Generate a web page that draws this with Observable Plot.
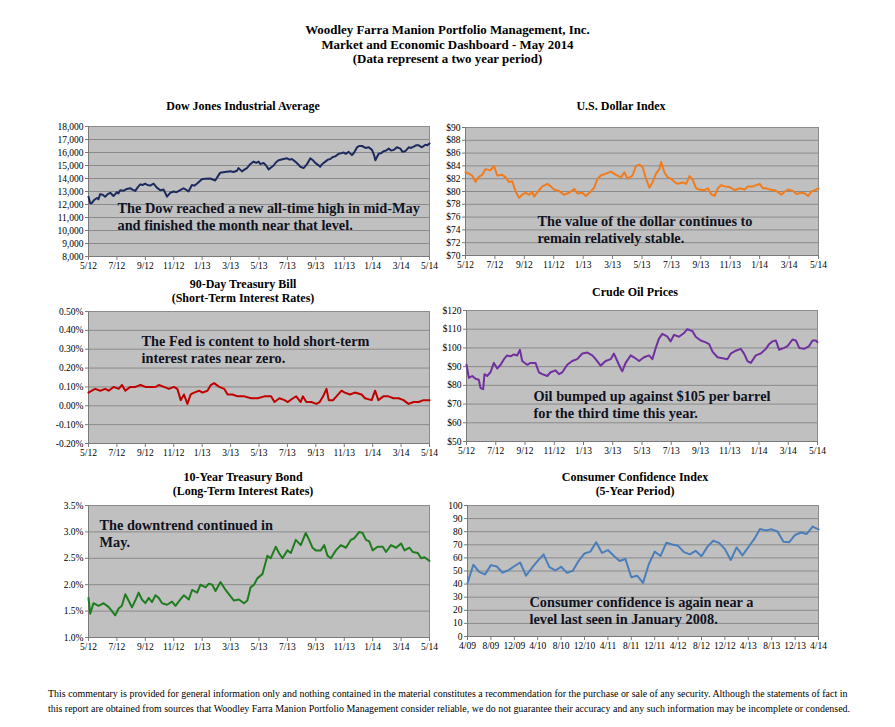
<!DOCTYPE html>
<html><head><meta charset="utf-8">
<script src="https://cdn.jsdelivr.net/npm/d3@7"></script>
<script src="https://cdn.jsdelivr.net/npm/@observablehq/plot@0.6"></script>
<style>
body{margin:0;background:#fff;}
#page{position:relative;width:895px;height:727px;font-family:"Liberation Serif","DejaVu Serif",serif;color:#000;overflow:hidden;}
.head{position:absolute;left:0;top:23px;width:895px;text-align:center;font-weight:bold;font-size:12.9px;line-height:14.7px;}
.ptitle{position:absolute;transform:translateX(-50%);text-align:center;font-weight:bold;font-size:12px;line-height:13.5px;white-space:nowrap;}
.foot{position:absolute;left:48px;top:686px;font-size:9.95px;line-height:15px;white-space:nowrap;}
.chart{position:absolute;}
</style></head>
<body><div id="page"></div>
<script>
// ---- data (x = months since start of period) ----
const twoYearTicks = [0,2,4,6,8,10,12,14,16,18,20,22,24];
const twoYearLabels = ["5/12","7/12","9/12","11/12","1/13","3/13","5/13","7/13","9/13","11/13","1/14","3/14","5/14"];
const cciTicks = [0,4,8,12,16,20,24,28,32,36,40,44,48,52,56,60];
const cciLabels = ["4/09","8/09","12/09","4/10","8/10","12/10","4/11","8/11","12/11","4/12","8/12","12/12","4/13","8/13","12/13","4/14"];

const dowData = [[0,12600],[0.12,12100],[0.23,12100],[0.4,12350],[0.59,12500],[0.7,12400],[0.82,12800],[1.0,12750],[1.17,12600],[1.35,12800],[1.53,12900],[1.76,12650],[2.0,12950],[2.1,12850],[2.23,13100],[2.45,13050],[2.7,13200],[2.93,13250],[3.1,13150],[3.29,13050],[3.45,13300],[3.64,13550],[3.8,13500],[3.99,13600],[4.15,13500],[4.34,13450],[4.58,13600],[4.81,13300],[5.05,13100],[5.28,13150],[5.4,12900],[5.52,12600],[5.75,12900],[5.99,13000],[6.2,12950],[6.46,13100],[6.69,13250],[6.85,13150],[7.04,13000],[7.28,13500],[7.45,13450],[7.63,13600],[7.98,13950],[8.2,13980],[8.57,14000],[8.92,13850],[9.27,14450],[9.6,14500],[9.98,14550],[10.2,14500],[10.45,14600],[10.56,14800],[10.8,14550],[11.0,14700],[11.15,14800],[11.38,15100],[11.62,15300],[11.8,15200],[11.97,15300],[12.1,15100],[12.32,15200],[12.5,15000],[12.68,14700],[12.85,14850],[13.03,15000],[13.2,15250],[13.38,15400],[13.73,15500],[13.97,15550],[14.15,15450],[14.32,15500],[14.55,15300],[14.75,15100],[14.91,14900],[15.14,14800],[15.38,15100],[15.61,15550],[15.8,15400],[15.96,15200],[16.15,15050],[16.31,14900],[16.43,15100],[16.67,15300],[16.85,15450],[17.02,15500],[17.2,15650],[17.37,15700],[17.61,15900],[17.8,15950],[17.96,16000],[18.1,15900],[18.31,16050],[18.54,15800],[18.7,16000],[18.9,16400],[19.05,16500],[19.25,16500],[19.5,16350],[19.72,16400],[19.95,16200],[20.1,15800],[20.19,15400],[20.42,15900],[20.6,15950],[20.77,16100],[20.95,16150],[21.13,16300],[21.3,16150],[21.48,16200],[21.7,16400],[21.95,16300],[22.1,16050],[22.3,16100],[22.54,16400],[22.7,16350],[22.89,16450],[23.05,16550],[23.24,16550],[23.47,16400],[23.71,16600],[23.85,16550],[24,16700]];

const dollarData = [[0,83.0],[0.23,82.8],[0.45,82.5],[0.68,81.5],[0.91,82.3],[1.14,82.6],[1.36,83.5],[1.7,83.3],[1.93,84.0],[2.16,82.5],[2.5,82.6],[2.73,82.2],[2.95,81.5],[3.18,81.6],[3.41,80.0],[3.64,79.0],[3.86,79.5],[4.09,79.8],[4.32,79.5],[4.55,79.9],[4.66,79.2],[5.0,80.2],[5.23,80.8],[5.57,81.2],[5.8,80.8],[6.02,80.3],[6.36,80.1],[6.7,79.5],[7.05,79.8],[7.39,80.4],[7.61,79.7],[7.95,79.8],[8.18,79.3],[8.52,80.0],[8.75,80.6],[8.98,82.0],[9.2,82.5],[9.55,82.8],[9.89,83.1],[10.23,82.6],[10.57,82.2],[10.8,83.0],[11.02,82.0],[11.36,82.5],[11.59,84.0],[11.82,84.2],[12.05,83.8],[12.27,82.0],[12.5,80.6],[12.73,81.5],[12.95,82.8],[13.18,83.5],[13.3,84.6],[13.52,83.0],[13.75,82.2],[13.98,82.0],[14.2,81.5],[14.43,81.2],[14.77,81.4],[15.0,81.2],[15.23,82.4],[15.45,81.8],[15.68,80.5],[15.91,80.3],[16.25,80.2],[16.48,80.5],[16.7,79.6],[16.93,79.3],[17.16,80.5],[17.39,81.0],[17.61,80.8],[17.95,80.7],[18.3,80.2],[18.64,80.5],[18.98,80.3],[19.2,80.8],[19.55,80.8],[19.77,81.0],[20.0,81.2],[20.23,80.5],[20.45,80.5],[20.68,80.3],[21.02,80.2],[21.25,79.9],[21.48,79.5],[21.7,80.0],[21.93,80.3],[22.27,80.1],[22.5,79.6],[22.84,79.8],[23.07,79.7],[23.3,79.3],[23.52,80.0],[23.75,80.2],[24,80.5]];

const tbillData = [[0,0.07],[0.24,0.08],[0.47,0.09],[0.83,0.08],[1.18,0.09],[1.42,0.08],[1.77,0.10],[2.12,0.09],[2.36,0.11],[2.59,0.08],[2.95,0.10],[3.3,0.10],[3.66,0.11],[4.01,0.10],[4.36,0.10],[4.72,0.10],[4.95,0.11],[5.31,0.10],[5.66,0.09],[6.01,0.10],[6.25,0.09],[6.49,0.03],[6.72,0.06],[6.96,0.01],[7.19,0.06],[7.43,0.07],[7.78,0.08],[8.02,0.07],[8.37,0.08],[8.61,0.11],[8.84,0.12],[9.2,0.10],[9.55,0.09],[9.79,0.06],[10.14,0.06],[10.5,0.05],[10.97,0.05],[11.44,0.04],[11.91,0.04],[12.38,0.05],[12.85,0.05],[13.09,0.02],[13.44,0.04],[13.8,0.03],[14.03,0.02],[14.39,0.04],[14.62,0.05],[14.93,0.02],[15.09,0.05],[15.33,0.02],[15.68,0.02],[16.04,0.01],[16.27,0.02],[16.51,0.05],[16.75,0.09],[16.91,0.03],[17.22,0.03],[17.45,0.05],[17.81,0.08],[18.04,0.07],[18.4,0.06],[18.75,0.07],[19.22,0.06],[19.46,0.04],[19.93,0.03],[20.17,0.08],[20.4,0.03],[20.75,0.05],[21.11,0.05],[21.46,0.04],[21.82,0.04],[22.17,0.03],[22.52,0.01],[22.88,0.02],[23.23,0.02],[23.58,0.03],[24,0.03]];

const oilData = [[0,91],[0.16,84],[0.39,85],[0.62,83.5],[0.84,83],[0.96,78.5],[1.14,78],[1.23,86],[1.41,85],[1.64,87],[1.87,92],[2.1,89],[2.33,91],[2.56,94],[2.78,96],[3.01,95.5],[3.24,96.5],[3.47,96],[3.65,99],[3.81,93],[4.15,91],[4.38,92],[4.72,92],[4.95,87],[5.18,86],[5.52,85],[5.75,87],[6.09,88],[6.32,86],[6.55,87],[6.89,91],[7.23,93],[7.57,94],[7.92,97],[8.26,97.5],[8.6,96],[8.83,94],[9.17,90.5],[9.51,93],[9.86,94],[10.08,97],[10.31,93],[10.54,89],[10.65,87.5],[10.88,92],[11.23,96],[11.45,95],[11.8,93],[12.14,95],[12.48,96],[12.71,94],[12.94,100],[13.16,105],[13.39,107.5],[13.74,106],[13.96,103.5],[14.19,107],[14.53,106],[14.88,108],[15.1,110],[15.45,109],[15.67,106],[16.02,104],[16.36,103],[16.59,102],[16.82,98],[17.16,95],[17.5,94.5],[17.84,94],[18.07,97],[18.41,98.5],[18.75,99.5],[18.98,97],[19.21,93],[19.44,92],[19.78,96],[20.12,97],[20.47,99.5],[20.69,102],[20.92,103.5],[21.15,104],[21.38,99],[21.72,100],[21.95,101],[22.29,104.5],[22.52,104],[22.75,100],[23.09,99.5],[23.43,101],[23.66,104],[23.89,104],[24,103]];

const bondData = [[0,1.75],[0.12,1.45],[0.35,1.65],[0.71,1.6],[1.06,1.65],[1.41,1.58],[1.65,1.5],[1.88,1.42],[2.12,1.55],[2.35,1.6],[2.59,1.82],[2.82,1.7],[3.06,1.57],[3.29,1.7],[3.53,1.85],[3.76,1.72],[4.0,1.65],[4.24,1.75],[4.47,1.67],[4.71,1.8],[4.94,1.75],[5.18,1.65],[5.53,1.62],[5.88,1.68],[6.12,1.6],[6.47,1.72],[6.71,1.8],[7.06,1.72],[7.29,1.9],[7.65,1.85],[7.88,2.0],[8.24,1.95],[8.47,2.02],[8.71,2.0],[8.94,1.88],[9.29,2.05],[9.65,1.9],[10.0,1.78],[10.24,1.7],[10.59,1.72],[10.94,1.65],[11.18,1.7],[11.41,1.95],[11.65,2.0],[11.88,2.12],[12.24,2.2],[12.59,2.55],[12.82,2.5],[13.18,2.72],[13.41,2.6],[13.65,2.5],[14.0,2.65],[14.24,2.6],[14.59,2.85],[14.94,2.75],[15.29,2.98],[15.53,2.85],[15.76,2.7],[16.0,2.65],[16.35,2.65],[16.59,2.75],[16.82,2.55],[17.06,2.5],[17.41,2.65],[17.76,2.75],[18.12,2.7],[18.47,2.85],[18.71,2.88],[19.06,3.0],[19.29,2.98],[19.53,2.85],[19.76,2.82],[20.0,2.65],[20.35,2.72],[20.71,2.72],[20.94,2.62],[21.29,2.75],[21.65,2.7],[22.0,2.78],[22.24,2.65],[22.59,2.7],[22.82,2.62],[23.18,2.6],[23.41,2.5],[23.65,2.52],[24,2.45]];

const cciValues = [40.8,54.8,49.3,47.4,54.5,53.4,48.7,50.6,53.6,56.5,46.4,52.3,57.7,62.7,52.9,50.4,53.2,48.6,50.2,57.8,63.4,64.8,72.0,63.8,66.0,61.7,57.6,59.2,45.2,46.4,40.9,55.2,64.8,61.5,71.6,70.2,69.2,64.4,62.7,65.4,61.3,68.4,73.1,71.5,66.7,58.4,68.0,61.9,68.1,74.3,82.1,81.0,81.8,80.2,72.4,72.0,77.5,79.4,78.3,83.9,81.7];

const headLines = ["Woodley Farra Manion Portfolio Management, Inc.","Market and Economic Dashboard - May 2014","(Data represent a two year period)"];
const footLines = ["This commentary is provided for general information only and nothing contained in the material constitutes a recommendation for the purchase or sale of any security. Although the statements of fact in","this report are obtained from sources that Woodley Farra Manion Portfolio Management consider reliable, we do not guarantee their accuracy and any such information may be incomplete or condensed."];

const serif = "Liberation Serif, DejaVu Serif, serif";
const page = document.getElementById("page");

function addDiv(cls, lines, style) {
  const d = document.createElement("div");
  d.className = cls;
  d.innerHTML = lines.map(s => s.replace(/&/g,"&amp;")).join("<br>");
  Object.assign(d.style, style || {});
  page.appendChild(d);
  return d;
}

addDiv("head", headLines);
addDiv("foot", footLines);

function panel(c) {
  const ml = 52, mr = 22, mt = 8, mb = 22;
  const fmtX = d => c.xLabels[c.xTicks.indexOf(d)];
  const chart = Plot.plot({
    width: ml + (c.R - c.L) + mr,
    height: mt + (c.B - c.T) + mb,
    marginLeft: ml, marginRight: mr, marginTop: mt, marginBottom: mb,
    style: {fontFamily: serif, fontSize: "9.5px", background: "transparent", color: "#000", overflow: "visible"},
    x: {domain: c.xDomain},
    y: {domain: c.yDomain},
    marks: [
      Plot.frame({fill: "#c0c0c0", stroke: "none"}),
      Plot.gridY(c.yTicks, {stroke: "#8a8a8a", strokeOpacity: 1, strokeWidth: 1}),
      Plot.frame({stroke: "#8c8c8c", strokeWidth: 1}),
      Plot.ruleX([c.xDomain[0]], {stroke: "#7a7a7a"}),
      Plot.ruleY([c.yDomain[0]], {stroke: "#7a7a7a"}),
      Plot.axisY(c.yTicks, {tickFormat: c.yFmt, tickSize: 3, tickPadding: 2, stroke: "#7a7a7a", fill: "#000", fontSize: 9.5, fontFamily: serif}),
      Plot.axisX(c.xTicks, {tickFormat: fmtX, tickSize: 4, tickPadding: 2, stroke: "#7a7a7a", fill: "#000", fontSize: 9.5, fontFamily: serif}),
      Plot.line(c.data, {x: d => d[0], y: d => d[1], stroke: c.color, strokeWidth: 2, strokeLinejoin: "round"}),
      Plot.text([c.note], {frameAnchor: "top-left", dx: c.ndx, dy: c.ndy, text: d => d, textAnchor: "start", lineAnchor: "top",
        fontSize: 14.3, fontWeight: "bold", fill: "#10121f", lineHeight: 1.15, fontFamily: serif})
    ]
  });
  chart.classList.add("chart");
  chart.style.left = (c.L - ml) + "px";
  chart.style.top = (c.T - mt) + "px";
  page.appendChild(chart);
  addDiv("ptitle", c.title, {left: c.tx + "px", top: c.ty + "px"});
}

const pct2 = d => (d < 0 ? "-" : "") + Math.abs(d).toFixed(2) + "%";

panel({title: ["Dow Jones Industrial Average"], tx: 243, ty: 100,
  L: 88, R: 429, T: 126, B: 256, data: dowData, color: "#1c2a5e",
  xDomain: [0, 24], xTicks: twoYearTicks, xLabels: twoYearLabels,
  yDomain: [8000, 18000], yTicks: [8000,9000,10000,11000,12000,13000,14000,15000,16000,17000,18000], yFmt: d3.format(","),
  note: "The Dow reached a new all-time high in mid-May\nand finished the month near that level.", ndx: 29, ndy: 75});

panel({title: ["U.S. Dollar Index"], tx: 621, ty: 100,
  L: 465, R: 818, T: 127, B: 255, data: dollarData, color: "#f07c1e",
  xDomain: [0, 24], xTicks: twoYearTicks, xLabels: twoYearLabels,
  yDomain: [70, 90], yTicks: [70,72,74,76,78,80,82,84,86,88,90], yFmt: d => "$" + d,
  note: "The value of the dollar continues to\nremain relatively stable.", ndx: 72, ndy: 87});

panel({title: ["90-Day Treasury Bill", "(Short-Term Interest Rates)"], tx: 243, ty: 278,
  L: 88, R: 429, T: 311, B: 443, data: tbillData, color: "#c00000",
  xDomain: [0, 24], xTicks: twoYearTicks, xLabels: twoYearLabels,
  yDomain: [-0.2, 0.5], yTicks: [-0.2,-0.1,0,0.1,0.2,0.3,0.4,0.5], yFmt: pct2,
  note: "The Fed is content to hold short-term\ninterest rates near zero.", ndx: 53, ndy: 23});

panel({title: ["Crude Oil Prices"], tx: 635, ty: 286,
  L: 466, R: 817, T: 310, B: 441, data: oilData, color: "#7030a0",
  xDomain: [0, 24], xTicks: twoYearTicks, xLabels: twoYearLabels,
  yDomain: [50, 120], yTicks: [50,60,70,80,90,100,110,120], yFmt: d => "$" + d,
  note: "Oil bumped up against $105 per barrel\nfor the third time this year.", ndx: 67, ndy: 79});

panel({title: ["10-Year Treasury Bond", "(Long-Term Interest Rates)"], tx: 243, ty: 471,
  L: 88, R: 429, T: 505, B: 637, data: bondData, color: "#1f7d1f",
  xDomain: [0, 24], xTicks: twoYearTicks, xLabels: twoYearLabels,
  yDomain: [1.0, 3.5], yTicks: [1.0,1.5,2.0,2.5,3.0,3.5], yFmt: d => d.toFixed(1) + "%",
  note: "The downtrend continued in\nMay.", ndx: 11, ndy: 13});

panel({title: ["Consumer Confidence Index", "(5-Year Period)"], tx: 635, ty: 471,
  L: 467, R: 818, T: 505, B: 636, data: cciValues.map((v, i) => [i, v]), color: "#4a7ebb",
  xDomain: [0, 60], xTicks: cciTicks, xLabels: cciLabels,
  yDomain: [0, 100], yTicks: [0,10,20,30,40,50,60,70,80,90,100], yFmt: d => String(d),
  note: "Consumer confidence is again near a\nlevel last seen in January 2008.", ndx: 62, ndy: 90});
</script>
</body></html>
